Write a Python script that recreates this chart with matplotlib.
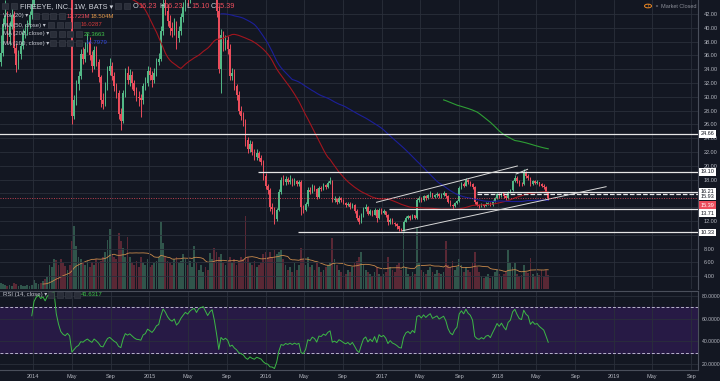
import numpy as np
import pandas as pd
import matplotlib
matplotlib.use("Agg")
import matplotlib.pyplot as plt
import matplotlib.dates as mdates
import matplotlib.transforms as mtransforms
from matplotlib.patches import Rectangle, Circle

plt.rcParams['font.family'] = ['Liberation Sans', 'DejaVu Sans']

# weekly candles FEYE (BATS), from the IPO week Sep 2013 to June 2018
first_open = 35.0
close = [36.4, 40.5, 41.7, 38.6, 40.3, 41.9, 37.1, 34.6, 36.2, 37.4, 39.2, 39.6, 40.4, 41.8, 43.4,
         56.5, 63.0, 66.5, 65.0, 67.8, 66.0, 74.0, 77.0, 80.0, 82.0, 70.0, 62.0, 55.0, 52.0, 50.5, 52.5, 50.0,
         27.2, 29.5, 31.8, 33.0, 36.2, 35.5, 37.0, 38.0, 36.0, 34.5, 36.8, 35.0, 32.8, 29.5, 29.0, 31.5, 33.8, 34.5,
         33.0, 31.5, 30.5, 27.5, 26.5, 30.5, 33.5, 32.5, 33.2, 32.0, 30.8, 30.0, 29.8, 29.5, 31.5, 32.0, 33.8, 33.2,
         32.5, 33.5, 35.0, 35.5, 39.5, 43.5, 42.5, 41.0, 40.0, 39.5, 40.5, 38.5, 39.5, 41.5, 43.0, 44.5, 44.0, 45.5,
         46.5, 47.0, 46.0, 48.0, 48.5, 49.0, 48.0, 47.0, 48.5, 49.5, 47.0,
         42.5, 34.0, 39.0, 37.5, 38.2, 37.0, 33.0, 33.5, 31.5, 30.2, 28.0, 27.2, 26.3, 23.8, 22.5, 23.2, 22.0, 21.3,
         21.8, 21.2, 20.5,
         18.5, 17.0, 16.5, 14.0, 13.8, 12.3, 13.6, 16.2, 18.0, 17.6, 18.1, 17.7, 18.0, 17.5, 17.8, 17.4, 17.6,
         14.0, 13.6, 14.4, 16.5, 16.2, 17.0, 16.6, 15.5, 16.8, 16.7, 17.2, 16.9, 17.5, 17.8, 15.0, 15.2, 14.8, 15.3,
         15.0, 14.6, 14.3, 14.5, 14.0, 14.3, 13.5, 12.5, 11.9, 12.8, 13.7, 14.0, 13.0, 13.4, 12.9,
         13.6, 12.4, 13.6, 13.2, 13.4, 12.9, 11.8, 12.2, 11.7, 11.5, 11.2, 10.8, 10.7, 11.9, 12.5, 12.7, 12.4, 12.8,
         12.5, 15.1, 15.3, 15.0, 15.6, 15.3, 15.7, 16.0, 15.5, 15.7, 15.9, 15.6, 15.8, 16.0, 15.6,
         14.8, 14.3, 14.1, 14.6, 14.9, 16.8, 17.4, 17.1, 18.0, 17.6, 17.4, 16.9, 14.7, 14.3, 14.2, 14.4, 14.2, 14.5,
         14.6, 14.3, 14.8, 15.3, 15.9, 15.6, 16.0, 15.6, 15.3, 16.2, 16.5, 17.8, 18.3, 17.8, 17.4, 17.3, 18.9, 18.5,
         18.3, 17.4, 17.8, 17.5, 17.6, 17.3, 17.1, 16.9, 16.23, 15.39]
high = [38.9, 41.4, 44.0, 42.5, 41.0, 43.2, 42.4, 37.8, 36.8, 38.0, 39.8, 40.6, 41.2, 42.5, 44.5,
        58.5, 64.5, 68.0, 68.0, 69.5, 69.0, 76.0, 79.0, 82.0, 86.0, 83.0, 71.0, 63.0, 56.5, 53.5, 54.5, 53.5,
        50.5, 30.2, 32.5, 33.8, 36.9, 37.2, 37.9, 39.2, 38.6, 36.6, 37.3, 37.4, 35.5, 33.2, 30.5, 32.2, 34.4, 35.6,
        35.0, 33.6, 32.0, 31.0, 28.4, 31.0, 34.2, 34.4, 34.0, 33.8, 32.5, 31.4, 30.9, 30.4, 32.0, 32.9, 34.4, 34.3,
        33.8, 34.2, 35.6, 36.4, 40.2, 44.6, 45.0, 43.4, 41.8, 40.8, 41.4, 41.0, 40.2, 42.2, 43.8, 45.4, 45.6, 46.4,
        47.4, 48.2, 47.8, 48.9, 49.6, 50.2, 49.8, 48.6, 49.3, 51.0, 50.0,
        47.5, 43.2, 39.8, 39.6, 39.0, 38.8, 37.6, 34.2, 34.0, 31.9, 30.8, 28.6, 27.8, 26.8, 24.2, 23.8, 23.6, 22.5,
        22.4, 22.2, 21.6,
        20.8, 18.9, 17.4, 16.8, 14.6, 14.0, 13.9, 16.6, 18.4, 18.6, 18.5, 18.4, 18.6, 18.3, 18.2, 18.0, 18.0,
        17.9, 14.3, 14.7, 16.9, 16.9, 17.3, 17.2, 16.8, 17.0, 17.1, 17.5, 17.4, 17.8, 18.4, 17.9, 15.6, 15.4, 15.6,
        15.5, 15.2, 14.8, 14.8, 14.7, 14.6, 14.4, 13.7, 12.8, 13.1, 14.0, 14.5, 14.2, 13.7, 13.6,
        13.9, 13.8, 13.9, 13.9, 13.7, 13.5, 13.0, 12.5, 12.4, 11.9, 11.7, 11.3, 11.0, 12.1, 12.7, 12.9, 12.9, 13.0,
        12.9, 15.4, 15.6, 15.5, 15.8, 15.8, 15.9, 16.3, 16.1, 15.9, 16.2, 16.0, 16.0, 16.3, 16.1,
        15.7, 15.0, 14.5, 14.8, 15.1, 17.0, 17.7, 17.6, 18.2, 18.1, 17.8, 17.5, 17.0, 14.9, 14.5, 14.6, 14.5, 14.7,
        14.8, 14.7, 15.0, 15.5, 16.1, 16.0, 16.2, 16.1, 15.8, 16.4, 16.7, 18.0, 18.6, 18.5, 17.9, 17.6, 19.5, 19.2,
        18.8, 18.4, 18.0, 17.9, 17.9, 17.7, 17.5, 17.3, 17.0, 16.23]
low = [34.5, 35.9, 39.8, 37.8, 37.5, 39.8, 36.3, 33.6, 34.0, 35.5, 36.9, 38.5, 38.9, 39.9, 41.3,
       43.0, 55.5, 62.0, 63.5, 64.0, 64.5, 65.0, 72.5, 75.5, 78.0, 68.5, 60.5, 53.5, 50.0, 48.5, 49.0, 47.5,
       26.0, 26.8, 28.8, 31.0, 32.6, 34.8, 35.0, 36.5, 35.4, 33.6, 34.0, 34.5, 32.2, 28.5, 28.2, 28.6, 31.0, 33.2,
       32.4, 30.9, 29.8, 26.8, 25.2, 26.2, 30.0, 31.8, 31.6, 31.2, 30.2, 29.4, 28.6, 27.0, 29.0, 31.0, 31.6, 32.5,
       31.4, 32.0, 33.0, 34.6, 35.2, 39.0, 41.8, 40.2, 39.0, 38.6, 38.9, 37.0, 37.9, 39.0, 40.9, 42.5, 43.2, 43.6,
       44.9, 45.8, 45.2, 45.6, 47.2, 47.6, 47.0, 46.2, 46.6, 48.0, 46.0,
       41.6, 33.4, 30.5, 36.6, 36.8, 36.2, 32.4, 32.4, 31.0, 29.6, 27.5, 26.6, 25.8, 22.9, 21.8, 22.0, 21.6, 20.8,
       20.9, 20.7, 20.1,
       18.0, 16.6, 15.9, 13.5, 13.0, 11.6, 12.0, 13.4, 15.9, 17.2, 17.2, 17.3, 17.4, 17.1, 17.2, 17.0, 17.1,
       12.9, 13.2, 13.4, 14.2, 15.9, 16.0, 16.3, 15.2, 15.4, 16.4, 16.5, 16.6, 16.8, 17.3, 14.7, 14.7, 14.5, 14.6,
       14.8, 14.4, 14.0, 14.1, 13.8, 13.9, 13.2, 12.2, 11.5, 11.7, 12.6, 13.4, 12.8, 12.8, 12.7,
       12.8, 11.9, 12.3, 13.0, 13.0, 12.6, 11.4, 11.6, 11.5, 11.2, 10.9, 10.6, 10.5, 10.6, 11.8, 12.3, 12.2, 12.3,
       12.3, 12.3, 14.8, 14.8, 14.9, 15.1, 15.2, 15.5, 15.3, 15.3, 15.5, 15.4, 15.4, 15.6, 15.3,
       14.6, 14.1, 13.8, 14.0, 14.4, 14.8, 16.6, 16.9, 17.0, 17.3, 17.1, 16.7, 14.5, 14.1, 13.9, 14.0, 14.0, 14.1,
       14.3, 14.1, 14.2, 14.7, 15.2, 15.4, 15.5, 15.4, 15.0, 15.2, 16.0, 16.4, 17.6, 17.5, 17.1, 17.0, 17.2, 18.2,
       18.0, 17.1, 17.2, 17.3, 17.3, 17.0, 16.9, 16.7, 16.1, 15.10]
# weekly volume, millions
volume = [6, 5, 4, 3, 4, 3, 6, 5, 3, 4, 3, 3, 4, 3, 4,
          8, 6, 5, 6, 7, 9, 11, 22, 20, 28, 27, 22, 28, 24, 21, 18, 22,
          44, 58, 40, 30, 28, 24, 22, 26, 20, 25, 22, 28, 24,
          26, 30, 34, 45, 56, 32, 30, 28, 52, 44, 38, 30, 48, 30,
          24, 22, 26, 20, 30, 24, 22, 28, 20, 22, 24, 26, 30, 62, 43,
          30, 26, 24, 22, 28, 30, 24, 26, 32, 28,
          22, 26, 20, 40, 24, 18, 22, 16, 20, 18, 33, 28, 38,
          34, 30, 32, 24, 22, 26, 30, 24, 28, 22, 26, 30, 28, 68,
          30, 24, 22, 26, 20, 22, 24, 32, 34,
          30, 34, 30, 36, 32, 34, 36, 28, 22, 18, 20, 16, 24, 18, 22, 38,
          28, 22, 30, 20, 22, 18, 24, 20, 16, 18, 20, 22, 24, 47,
          28, 22, 18, 16, 20, 14, 18, 16, 20, 24, 26, 30, 34, 22, 18, 16, 14, 12,
          16, 20, 14, 12, 14, 16, 30, 20, 18, 16, 22, 24, 18, 54,
          20, 14, 12, 16, 14, 57,
          24, 18, 16, 14, 18, 20, 16, 14, 18, 15, 14, 16, 44, 22,
          20, 26, 18, 20, 28, 22, 16, 20, 18, 16, 24, 34,
          20, 16, 12, 10, 12, 14, 10, 12, 16, 18, 14, 12,
          14, 16, 36, 24, 20, 24, 14, 12, 13, 22, 16, 15, 29,
          14, 12, 15, 13, 18, 12, 18, 12.72]

# drawn levels / trend lines (start date, price)
level_price = [24.66, 19.10, 16.21, 15.95, 13.71, 10.33]
level_start = ['2013-09-10', '2015-12-08', '2017-10-26', '2017-10-26', '2017-01-23', '2016-04-11']
trend_lines = [('2016-12-15', 14.71, '2018-03-03', 19.97),
               ('2017-03-07', 10.59, '2018-12-07', 16.97),
               ('2018-02-27', 18.81, '2018-04-04', 19.49)]
last_price = 15.39

BG = '#131722'
GRID = '#2a2f3b'
UP = '#53b987'
DN = '#eb4d5c'
TXT = '#b2b5be'

W, H = 720, 381
fig = plt.figure(figsize=(7.2, 3.81), dpi=100)
fig.patch.set_facecolor(BG)

R = 698 / W
ax = fig.add_axes([0, 1 - 289 / H, R, 289 / H])
ax2 = fig.add_axes([0, 1 - 370 / H, R, 79 / H], sharex=ax)
axv = ax.twinx()
ax.set_zorder(2)
axv.set_zorder(1)
ax.patch.set_visible(False)
axv.patch.set_facecolor(BG)
ax2.set_facecolor(BG)

dates = pd.date_range('2013-09-20', periods=len(close), freq='W-FRI')
x = mdates.date2num(dates)
c = np.array(close)
o = np.array([first_open] + close[:-1])
up = c >= o
col = np.where(up, UP, DN)

# candles
ax.vlines(x, low, high, colors=col, lw=0.7, zorder=3)
body = np.maximum(np.abs(c - o), 0.08)
ax.bar(x, body, bottom=np.minimum(o, c), width=4.6, color=col, linewidth=0, zorder=4)

# moving averages
s = pd.Series(close)
ax.plot(x, s.rolling(50).mean(), color='#a3151e', lw=0.8, zorder=5)
ax.plot(x, s.rolling(100).mean(), color='#1c1f9a', lw=0.8, zorder=5)
ax.plot(x, s.rolling(200).mean(), color='#2e9e35', lw=0.8, zorder=5)

# volume
vcol = np.where(up, '#30554b', '#5a2835')
axv.bar(x, volume, width=5.6, color=vcol, linewidth=0)
axv.plot(x, pd.Series(volume).rolling(20).mean(), color='#c98a4b', lw=0.6)
axv.set_ylim(0, 289 / 1.08)
axv.set_yticks([])

# drawings
x_end = mdates.date2num(pd.Timestamp('2019-09-22'))
for p, d0 in zip(level_price, level_start):
    ls = '--' if p == 15.95 else '-'
    ax.hlines(p, mdates.date2num(pd.Timestamp(d0)), x_end, color='#e6e6e6', lw=0.9, ls=ls, zorder=6)
for d0, p0, d1, p1 in trend_lines:
    ax.plot([mdates.date2num(pd.Timestamp(d0)), mdates.date2num(pd.Timestamp(d1))], [p0, p1],
            color='#d8d8d8', lw=0.7, zorder=6)
ax.axhline(last_price, color=DN, lw=0.7, ls=(0, (1, 1.5)), alpha=0.8, zorder=6)

# price axis
ax.set_ylim(2.14, 44.03)
ax.set_xlim(mdates.date2num(pd.Timestamp('2013-09-18')), x_end)
yt = np.arange(4, 44, 2)
ax.set_yticks(yt)
ax.set_yticklabels(['' if v in (10, 14, 16) else f'{v:.2f}' for v in yt])
ax.yaxis.tick_right()
ax.tick_params(axis='y', colors=TXT, labelsize=4, length=0, pad=4)
ax.tick_params(axis='x', length=0, labelbottom=False)
ax.grid(True, color=GRID, lw=0.6)
for sp in ax.spines.values():
    sp.set_visible(False)
ax.spines['right'].set_visible(True)
ax.spines['right'].set_color('#4a4f5b')
for sp in axv.spines.values():
    sp.set_visible(False)

bt = mtransforms.blended_transform_factory(ax.transAxes, ax.transData)
tags = [(24.66, '24.66'), (19.10, '19.10'), (16.21, '16.21'), (15.55, '15.93'), (13.1, '13.71'), (10.33, '10.33')]
for p, t in tags:
    ax.text(1.004, p, t, transform=bt, fontsize=4, color='#131722', va='center', ha='left',
            bbox=dict(boxstyle='square,pad=0.25', fc='white', ec='none'), clip_on=False, zorder=10)
ax.text(1.004, 14.3, f'{last_price:.2f}', transform=bt, fontsize=4, color='white', va='center', ha='left',
        bbox=dict(boxstyle='square,pad=0.25', fc=DN, ec='none'), clip_on=False, zorder=11)

# RSI (14), Wilder smoothing
diff = np.diff(c)
gain = np.clip(diff, 0, None)
loss = np.clip(-diff, 0, None)
rsi = np.full(len(c), np.nan)
ag, al = gain[:14].mean(), loss[:14].mean()
rsi[14] = 100 - 100 / (1 + ag / al)
for i in range(15, len(c)):
    ag = (ag * 13 + gain[i - 1]) / 14
    al = (al * 13 + loss[i - 1]) / 14
    rsi[i] = 100 - 100 / (1 + ag / al)

ax2.axhspan(30, 70, color='#271a45', zorder=0)
ax2.axhline(70, color='#b8b3cc', lw=0.7, ls=(0, (3, 2)), zorder=2)
ax2.axhline(30, color='#b8b3cc', lw=0.7, ls=(0, (3, 2)), zorder=2)
ax2.plot(x, rsi, color='#3cb846', lw=0.7, zorder=3)
ax2.set_ylim(14.8, 84.4)
ax2.set_yticks([20, 40, 60, 80])
ax2.set_yticklabels(['20.0000', '40.0000', '60.0000', '80.0000'])
ax2.yaxis.tick_right()
ax2.tick_params(axis='y', colors=TXT, labelsize=3.7, length=0, pad=2.5)
ax2.grid(True, color=GRID, lw=0.6)
for sp in ax2.spines.values():
    sp.set_visible(False)
for side in ('right', 'top', 'bottom'):
    ax2.spines[side].set_visible(True)
    ax2.spines[side].set_color('#4a4f5b')

xt, xl = [], []
for yr in range(2014, 2020):
    for m, name in ((1, str(yr)), (5, 'May'), (9, 'Sep')):
        xt.append(mdates.date2num(pd.Timestamp(yr, m, 1)))
        xl.append(name)
ax2.set_xticks(xt)
ax2.set_xticklabels(xl)
ax2.tick_params(axis='x', colors=TXT, labelsize=4, length=0, pad=3)


def ptext(px, py, t, **kw):
    fig.text(px / W, 1 - py / H, t, va='center', ha='left', zorder=20, **kw)


def icons(px, py, n):
    for i in range(n):
        fig.add_artist(Rectangle(((px + i * 8.5) / W, 1 - (py + 3) / H), 6 / W, 6 / H,
                                 transform=fig.transFigure, fc='#2a2e39', ec='#3b3f4a', lw=0.4,
                                 zorder=20))


icons(2, 6, 2)
ptext(20, 6.5, 'FIREEYE, INC., 1W, BATS ▾', fontsize=5.3, color='#d1d4dc')
icons(115, 6, 2)
for px, lab, val in ((133, 'O', '16.23'), (159, 'H', '16.23'), (186, 'L', '15.10'), (211, 'C', '15.39')):
    ptext(px, 6.5, lab, fontsize=5.3, color='#d1d4dc')
    ptext(px + 5, 6.5, val, fontsize=5.3, color=DN)

ptext(3, 16, 'Vol (20) ▾', fontsize=4.3, color='#c0c3cc')
icons(33, 16, 4)
ptext(67, 16, '12.723M', fontsize=4.3, color=DN)
ptext(91, 16, '18.504M', fontsize=4.3, color='#e59a4a')
rows = [('MA (50, close) ▾', 25, 48, 81, '16.0287', '#d23a3a'),
        ('MA (200, close) ▾', 34, 50, 84, '22.3663', '#40c44a'),
        ('MA (100, close) ▾', 43, 50, 86, '14.7979', '#3348d8')]
for lab, py, ix, vx, val, vc in rows:
    ptext(3, py, lab, fontsize=4.3, color='#c0c3cc')
    icons(ix, py, 4)
    ptext(vx, py, val, fontsize=4.3, color=vc)
ptext(3, 294.5, 'RSI (14, close) ▾', fontsize=4.3, color='#c0c3cc')
icons(48, 294.5, 4)
ptext(81, 294.5, '41.6317', fontsize=4.3, color='#40c44a')

fig.add_artist(Circle((648 / W, 1 - 6 / H), 3.5 / W, transform=fig.transFigure, fc='none', ec='#f08a24',
                      lw=0.7, zorder=20))
fig.text(648 / W, 1 - 6 / H, '!', fontsize=4, color='#f08a24', ha='center', va='center')
fig.add_artist(Circle((657 / W, 1 - 6 / H), 1.2 / W, transform=fig.transFigure, fc='#787b86', ec='none',
                      zorder=20))
ptext(661, 6.5, 'Market Closed', fontsize=4, color='#8b8e98')

fig.savefig('out.png', dpi=100, facecolor=BG)
